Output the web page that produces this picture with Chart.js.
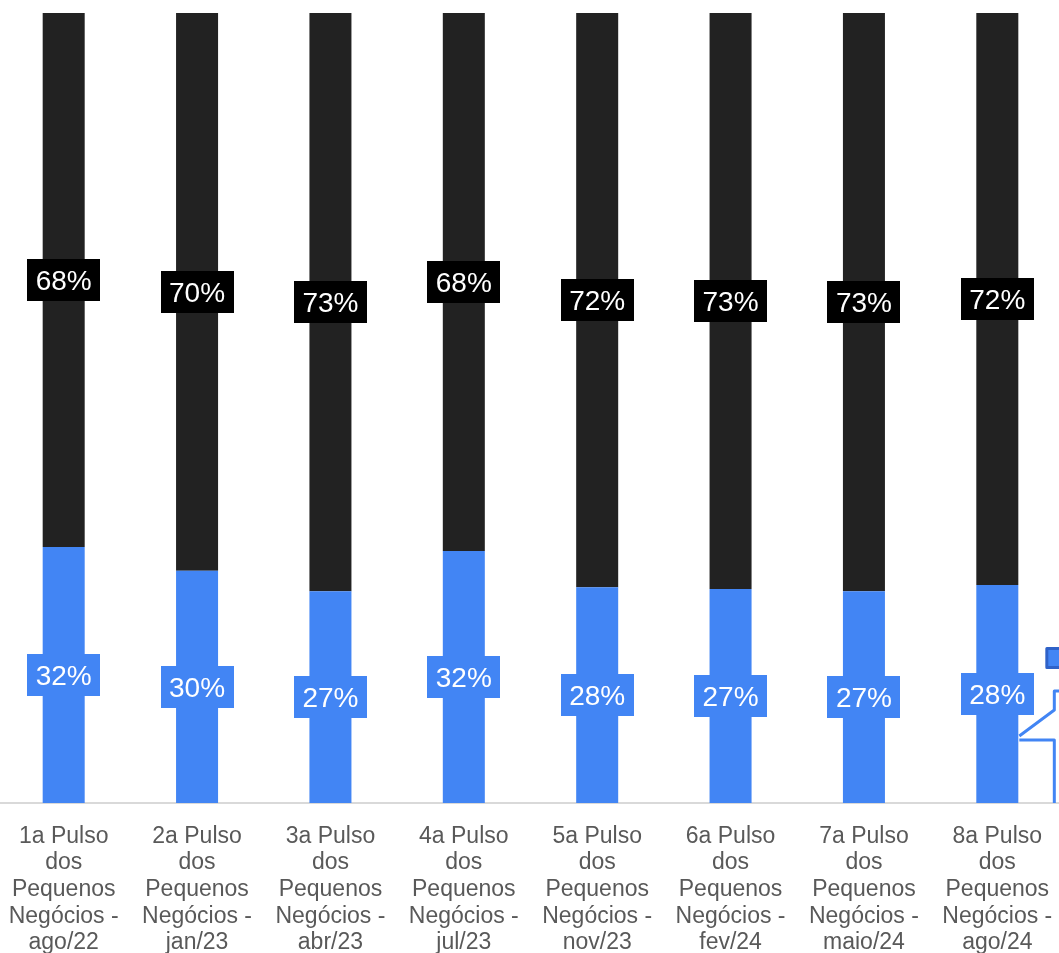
<!DOCTYPE html>
<html lang="pt-BR">
<head>
<meta charset="utf-8">
<title>Pulso dos Pequenos Negócios</title>
<script src="https://cdn.jsdelivr.net/npm/chart.js@4/dist/chart.umd.min.js"></script>
<style>
  html, body { margin: 0; padding: 0; background: #fff; overflow: hidden; }
  #wrap { position: absolute; left: -3px; top: 0; width: 1067px; height: 953px; }
</style>
</head>
<body>
<div id="wrap"><canvas id="grafico" width="1067" height="953"></canvas></div>
<script>
// categorias (rótulos do eixo x, em várias linhas)
const categorias = [
  ['1a Pulso', 'dos', 'Pequenos', 'Negócios -', 'ago/22'],
  ['2a Pulso', 'dos', 'Pequenos', 'Negócios -', 'jan/23'],
  ['3a Pulso', 'dos', 'Pequenos', 'Negócios -', 'abr/23'],
  ['4a Pulso', 'dos', 'Pequenos', 'Negócios -', 'jul/23'],
  ['5a Pulso', 'dos', 'Pequenos', 'Negócios -', 'nov/23'],
  ['6a Pulso', 'dos', 'Pequenos', 'Negócios -', 'fev/24'],
  ['7a Pulso', 'dos', 'Pequenos', 'Negócios -', 'maio/24'],
  ['8a Pulso', 'dos', 'Pequenos', 'Negócios -', 'ago/24']
];

// parte azul (base) e parte preta (topo) de cada barra, em %
const valoresAzul  = [32.4, 29.4, 26.8, 31.9, 27.3, 27.1, 26.8, 27.6];
const valoresPreto = [67.6, 70.6, 73.2, 68.1, 72.7, 72.9, 73.2, 72.4];

// rótulos de dados como aparecem no gráfico
const rotulosAzul  = ['32%', '30%', '27%', '32%', '28%', '27%', '27%', '28%'];
const rotulosPreto = ['68%', '70%', '73%', '68%', '72%', '73%', '73%', '72%'];

const AZUL = '#4285F4';
const PRETO = '#222222';
const FONTE = '"Liberation Sans", Arial, sans-serif';

// caixas com o percentual no meio de cada segmento
const rotulosPlugin = {
  id: 'rotulos',
  afterDatasetsDraw(chart) {
    const { ctx } = chart;
    ctx.save();
    ctx.font = '28px ' + FONTE;
    ctx.textAlign = 'center';
    ctx.textBaseline = 'alphabetic';
    chart.data.datasets.forEach((ds, i) => {
      const meta = chart.getDatasetMeta(i);
      meta.data.forEach((el, j) => {
        const txt = ds.rotulos[j];
        const cy = (el.y + el.base) / 2;
        const w = ctx.measureText(txt).width + 17;
        const h = 42;
        ctx.fillStyle = ds.caixa;
        ctx.fillRect(Math.round(el.x - w / 2), Math.round(cy - h / 2), Math.round(w), h);
        ctx.fillStyle = '#ffffff';
        ctx.fillText(txt, el.x, cy + 10);
      });
    });
    ctx.restore();
  }
};

// pedaço de chamada/legenda cortado na borda direita
const chamadaPlugin = {
  id: 'chamada',
  afterDraw(chart) {
    const { ctx, chartArea } = chart;
    const meta = chart.getDatasetMeta(0);
    const ult = meta.data[meta.data.length - 1];
    const xr = ult.x + ult.width / 2;
    const b = chartArea.bottom;
    ctx.save();
    ctx.strokeStyle = AZUL;
    ctx.lineWidth = 3;
    ctx.lineJoin = 'round';
    ctx.beginPath();
    ctx.moveTo(xr + 50, b - 112);
    ctx.lineTo(xr + 36, b - 112);
    ctx.lineTo(xr + 36, b - 93);
    ctx.lineTo(xr + 1, b - 67);
    ctx.stroke();
    ctx.beginPath();
    ctx.moveTo(xr + 1, b - 63);
    ctx.lineTo(xr + 36, b - 63);
    ctx.lineTo(xr + 36, b);
    ctx.stroke();
    ctx.fillStyle = AZUL;
    ctx.fillRect(xr + 28, b - 155, 20, 20);
    ctx.strokeStyle = '#2F62C8';
    ctx.strokeRect(xr + 28.5, b - 154.5, 20, 19);
    ctx.restore();
  }
};

new Chart(document.getElementById('grafico'), {
  type: 'bar',
  data: {
    labels: categorias,
    datasets: [
      { label: 'Azul', data: valoresAzul, backgroundColor: AZUL, caixa: AZUL, rotulos: rotulosAzul },
      { label: 'Preto', data: valoresPreto, backgroundColor: PRETO, caixa: '#000000', rotulos: rotulosPreto }
    ]
  },
  options: {
    responsive: false,
    devicePixelRatio: 1,
    animation: false,
    layout: { padding: { top: 13, left: 0, right: 0, bottom: 0 } },
    datasets: { bar: { categoryPercentage: 1, barPercentage: 0.315 } },
    plugins: { legend: { display: false }, tooltip: { enabled: false } },
    scales: {
      x: {
        stacked: true,
        grid: { display: false, drawTicks: false },
        border: { display: true, color: '#d9d9d9', width: 2 },
        ticks: {
          color: '#595959',
          font: { family: FONTE, size: 23, lineHeight: 1.16 },
          padding: 20,
          maxRotation: 0,
          autoSkip: false
        },
        afterFit(scale) {
          scale.height = 150;
          scale.paddingLeft = 0;
          scale.paddingRight = 0;
        }
      },
      y: { stacked: true, display: false, min: 0, max: 100 }
    }
  },
  plugins: [rotulosPlugin, chamadaPlugin]
});
</script>
</body>
</html>
